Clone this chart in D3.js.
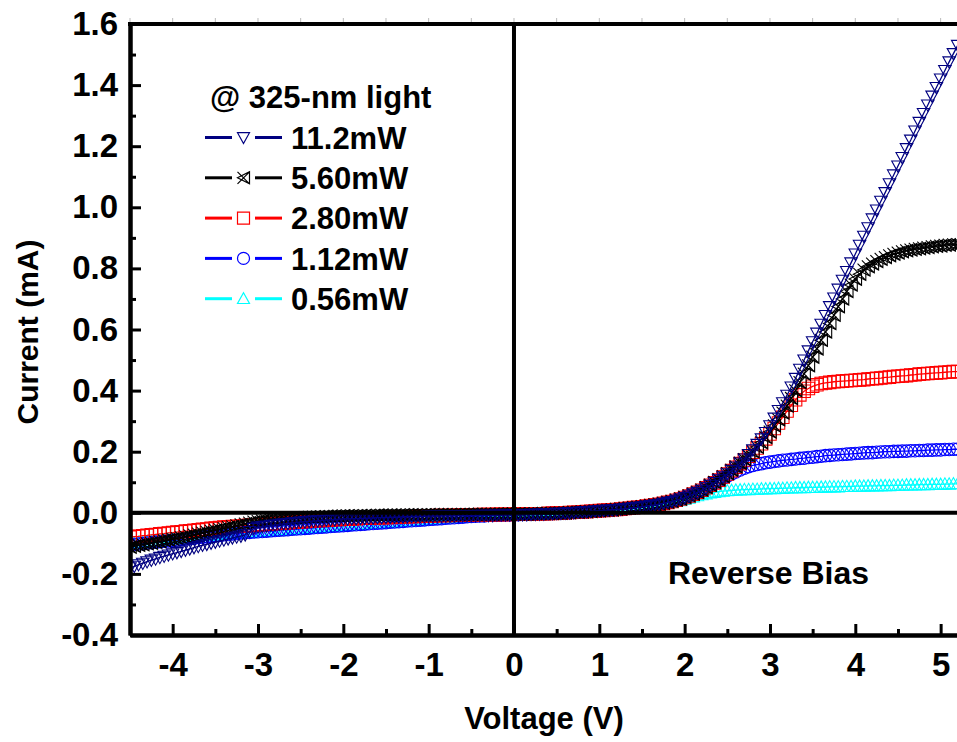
<!DOCTYPE html>
<html>
<head>
<meta charset="utf-8">
<script src="https://cdnjs.cloudflare.com/ajax/libs/d3/7.8.5/d3.min.js"></script>
<style>
  body { margin: 0; background: #fff; }
  text { font-family: "Liberation Sans", Arial, sans-serif; font-weight: bold; fill: #000; }
</style>
</head>
<body>
<svg id="chart"></svg>
<script>
'use strict';

// Voltage (V), 0.05 V steps
var voltage = [
  -4.50,-4.45,-4.40,-4.35,-4.30,-4.25,-4.20,-4.15,-4.10,-4.05,-4.00,-3.95,-3.90,-3.85,-3.80,-3.75,-3.70,-3.65,-3.60,-3.55,
  -3.50,-3.45,-3.40,-3.35,-3.30,-3.25,-3.20,-3.15,-3.10,-3.05,-3.00,-2.95,-2.90,-2.85,-2.80,-2.75,-2.70,-2.65,-2.60,-2.55,
  -2.50,-2.45,-2.40,-2.35,-2.30,-2.25,-2.20,-2.15,-2.10,-2.05,-2.00,-1.95,-1.90,-1.85,-1.80,-1.75,-1.70,-1.65,-1.60,-1.55,
  -1.50,-1.45,-1.40,-1.35,-1.30,-1.25,-1.20,-1.15,-1.10,-1.05,-1.00,-0.95,-0.90,-0.85,-0.80,-0.75,-0.70,-0.65,-0.60,-0.55,
  -0.50,-0.45,-0.40,-0.35,-0.30,-0.25,-0.20,-0.15,-0.10,-0.05,0.00,0.05,0.10,0.15,0.20,0.25,0.30,0.35,0.40,0.45,
  0.50,0.55,0.60,0.65,0.70,0.75,0.80,0.85,0.90,0.95,1.00,1.05,1.10,1.15,1.20,1.25,1.30,1.35,1.40,1.45,
  1.50,1.55,1.60,1.65,1.70,1.75,1.80,1.85,1.90,1.95,2.00,2.05,2.10,2.15,2.20,2.25,2.30,2.35,2.40,2.45,
  2.50,2.55,2.60,2.65,2.70,2.75,2.80,2.85,2.90,2.95,3.00,3.05,3.10,3.15,3.20,3.25,3.30,3.35,3.40,3.45,
  3.50,3.55,3.60,3.65,3.70,3.75,3.80,3.85,3.90,3.95,4.00,4.05,4.10,4.15,4.20,4.25,4.30,4.35,4.40,4.45,
  4.50,4.55,4.60,4.65,4.70,4.75,4.80,4.85,4.90,4.95,5.00,5.05,5.10,5.15,5.20
];

// Current (mA) for each light power
var current11_2 = [
  -0.180,-0.175,-0.170,-0.165,-0.160,-0.155,-0.151,-0.146,-0.142,-0.138,-0.134,-0.130,-0.126,-0.122,-0.118,-0.114,-0.110,-0.106,-0.103,-0.099,
  -0.096,-0.092,-0.089,-0.085,-0.082,-0.079,-0.076,-0.072,-0.061,-0.051,-0.047,-0.045,-0.043,-0.041,-0.040,-0.038,-0.036,-0.035,-0.033,-0.032,
  -0.030,-0.029,-0.028,-0.027,-0.026,-0.025,-0.024,-0.023,-0.022,-0.021,-0.020,-0.020,-0.019,-0.019,-0.018,-0.018,-0.017,-0.017,-0.016,-0.016,
  -0.015,-0.015,-0.014,-0.014,-0.013,-0.013,-0.012,-0.012,-0.012,-0.012,-0.011,-0.011,-0.011,-0.011,-0.010,-0.010,-0.010,-0.010,-0.009,-0.009,
  -0.009,-0.009,-0.008,-0.008,-0.008,-0.008,-0.007,-0.007,-0.007,-0.007,-0.006,-0.006,-0.006,-0.006,-0.005,-0.005,-0.004,-0.004,-0.003,-0.003,
  -0.002,-0.002,-0.001,0.000,0.001,0.002,0.003,0.004,0.005,0.006,0.007,0.008,0.009,0.010,0.011,0.012,0.014,0.015,0.017,0.018,
  0.020,0.022,0.024,0.026,0.028,0.031,0.034,0.037,0.041,0.045,0.050,0.055,0.061,0.067,0.074,0.082,0.090,0.099,0.108,0.118,
  0.128,0.139,0.150,0.163,0.176,0.191,0.206,0.224,0.242,0.263,0.285,0.310,0.335,0.360,0.385,0.412,0.440,0.470,0.500,0.530,
  0.560,0.588,0.617,0.646,0.675,0.703,0.732,0.761,0.790,0.818,0.847,0.876,0.905,0.933,0.962,0.991,1.020,1.048,1.077,1.106,
  1.135,1.163,1.192,1.220,1.250,1.278,1.307,1.335,1.364,1.392,1.420,1.448,1.476,1.503,1.530
];
var current5_60 = [
  -0.112,-0.109,-0.106,-0.104,-0.101,-0.099,-0.096,-0.094,-0.091,-0.089,-0.086,-0.084,-0.081,-0.078,-0.075,-0.072,-0.069,-0.066,-0.063,-0.060,
  -0.057,-0.054,-0.051,-0.048,-0.045,-0.042,-0.039,-0.036,-0.033,-0.030,-0.028,-0.026,-0.025,-0.023,-0.022,-0.021,-0.020,-0.019,-0.018,-0.017,
  -0.016,-0.015,-0.014,-0.014,-0.013,-0.013,-0.012,-0.012,-0.011,-0.011,-0.010,-0.010,-0.010,-0.010,-0.009,-0.009,-0.009,-0.009,-0.008,-0.008,
  -0.008,-0.008,-0.008,-0.008,-0.007,-0.007,-0.007,-0.007,-0.007,-0.007,-0.006,-0.006,-0.006,-0.006,-0.006,-0.006,-0.006,-0.006,-0.005,-0.005,
  -0.005,-0.005,-0.005,-0.005,-0.005,-0.005,-0.004,-0.004,-0.004,-0.004,-0.004,-0.004,-0.004,-0.004,-0.003,-0.003,-0.003,-0.003,-0.002,-0.002,
  -0.001,-0.001,0.000,0.001,0.002,0.002,0.003,0.004,0.005,0.006,0.007,0.008,0.009,0.010,0.012,0.013,0.015,0.016,0.018,0.019,
  0.021,0.023,0.025,0.027,0.029,0.032,0.035,0.038,0.042,0.046,0.051,0.056,0.062,0.068,0.075,0.083,0.091,0.100,0.109,0.119,
  0.129,0.140,0.151,0.163,0.175,0.187,0.200,0.215,0.230,0.247,0.265,0.285,0.305,0.327,0.350,0.375,0.400,0.427,0.455,0.482,
  0.510,0.537,0.565,0.592,0.620,0.647,0.675,0.700,0.725,0.746,0.765,0.781,0.795,0.806,0.815,0.823,0.830,0.836,0.842,0.847,
  0.851,0.855,0.858,0.861,0.863,0.865,0.867,0.869,0.871,0.873,0.874,0.876,0.877,0.878,0.879
];
var current2_80 = [
  -0.080,-0.078,-0.077,-0.075,-0.074,-0.072,-0.071,-0.069,-0.068,-0.066,-0.065,-0.063,-0.062,-0.060,-0.059,-0.057,-0.056,-0.054,-0.053,-0.051,
  -0.050,-0.048,-0.047,-0.046,-0.045,-0.044,-0.043,-0.042,-0.041,-0.040,-0.039,-0.038,-0.037,-0.036,-0.035,-0.034,-0.033,-0.032,-0.031,-0.030,
  -0.029,-0.028,-0.027,-0.026,-0.025,-0.025,-0.024,-0.023,-0.022,-0.022,-0.021,-0.020,-0.020,-0.019,-0.018,-0.018,-0.017,-0.017,-0.016,-0.016,
  -0.015,-0.015,-0.014,-0.014,-0.013,-0.013,-0.012,-0.012,-0.011,-0.011,-0.010,-0.010,-0.009,-0.009,-0.009,-0.009,-0.008,-0.008,-0.007,-0.007,
  -0.007,-0.007,-0.006,-0.006,-0.006,-0.006,-0.005,-0.005,-0.005,-0.005,-0.004,-0.004,-0.004,-0.004,-0.003,-0.003,-0.003,-0.003,-0.002,-0.002,
  -0.001,-0.001,0.000,0.001,0.002,0.002,0.003,0.004,0.005,0.006,0.007,0.008,0.009,0.010,0.011,0.012,0.014,0.015,0.017,0.018,
  0.020,0.022,0.024,0.026,0.028,0.031,0.034,0.037,0.041,0.045,0.050,0.055,0.061,0.067,0.074,0.082,0.090,0.098,0.107,0.117,
  0.127,0.138,0.149,0.161,0.173,0.185,0.198,0.212,0.226,0.242,0.258,0.276,0.294,0.313,0.333,0.352,0.370,0.386,0.398,0.407,
  0.414,0.419,0.423,0.425,0.427,0.429,0.430,0.431,0.432,0.433,0.434,0.435,0.436,0.438,0.439,0.440,0.441,0.443,0.444,0.446,
  0.447,0.448,0.449,0.451,0.452,0.454,0.455,0.456,0.457,0.458,0.459,0.460,0.461,0.462,0.462
];
var current1_12 = [
  -0.105,-0.104,-0.102,-0.101,-0.099,-0.098,-0.096,-0.095,-0.093,-0.092,-0.090,-0.089,-0.087,-0.086,-0.084,-0.083,-0.081,-0.080,-0.078,-0.077,
  -0.075,-0.074,-0.072,-0.071,-0.069,-0.068,-0.066,-0.065,-0.064,-0.063,-0.062,-0.061,-0.060,-0.059,-0.058,-0.057,-0.056,-0.055,-0.054,-0.053,
  -0.052,-0.051,-0.050,-0.049,-0.048,-0.047,-0.046,-0.045,-0.044,-0.043,-0.042,-0.041,-0.040,-0.039,-0.038,-0.037,-0.036,-0.035,-0.034,-0.033,
  -0.032,-0.031,-0.030,-0.029,-0.028,-0.027,-0.026,-0.025,-0.024,-0.023,-0.022,-0.021,-0.020,-0.019,-0.018,-0.017,-0.016,-0.015,-0.014,-0.013,
  -0.012,-0.011,-0.010,-0.010,-0.009,-0.009,-0.008,-0.008,-0.007,-0.007,-0.006,-0.006,-0.005,-0.005,-0.004,-0.004,-0.003,-0.003,-0.002,-0.002,
  -0.001,-0.001,0.000,0.000,0.001,0.002,0.003,0.004,0.005,0.006,0.007,0.008,0.009,0.010,0.011,0.012,0.014,0.015,0.017,0.018,
  0.020,0.022,0.024,0.026,0.028,0.031,0.034,0.037,0.041,0.045,0.050,0.055,0.061,0.067,0.074,0.081,0.089,0.097,0.105,0.113,
  0.120,0.127,0.134,0.140,0.146,0.151,0.155,0.158,0.161,0.164,0.166,0.168,0.170,0.172,0.173,0.175,0.176,0.178,0.179,0.181,
  0.182,0.184,0.185,0.187,0.188,0.189,0.190,0.191,0.192,0.193,0.194,0.195,0.196,0.197,0.197,0.198,0.199,0.200,0.200,0.201,
  0.201,0.202,0.202,0.203,0.203,0.204,0.204,0.205,0.205,0.206,0.206,0.207,0.207,0.208,0.208
];
var current0_56 = [
  -0.100,-0.099,-0.097,-0.096,-0.094,-0.093,-0.091,-0.090,-0.088,-0.087,-0.085,-0.084,-0.082,-0.081,-0.079,-0.078,-0.076,-0.075,-0.074,-0.073,
  -0.072,-0.071,-0.070,-0.069,-0.068,-0.067,-0.066,-0.065,-0.064,-0.063,-0.062,-0.061,-0.060,-0.059,-0.058,-0.057,-0.056,-0.055,-0.054,-0.053,
  -0.052,-0.051,-0.050,-0.049,-0.048,-0.047,-0.046,-0.045,-0.044,-0.043,-0.042,-0.041,-0.040,-0.039,-0.038,-0.037,-0.036,-0.035,-0.034,-0.033,
  -0.032,-0.031,-0.030,-0.029,-0.028,-0.027,-0.026,-0.025,-0.024,-0.023,-0.022,-0.021,-0.020,-0.019,-0.018,-0.017,-0.016,-0.015,-0.014,-0.013,
  -0.012,-0.011,-0.010,-0.010,-0.009,-0.009,-0.008,-0.008,-0.007,-0.007,-0.006,-0.006,-0.005,-0.005,-0.004,-0.004,-0.003,-0.003,-0.002,-0.002,
  -0.001,-0.001,0.000,0.000,0.001,0.002,0.003,0.004,0.005,0.006,0.007,0.008,0.009,0.010,0.011,0.012,0.013,0.014,0.015,0.016,
  0.018,0.020,0.022,0.024,0.026,0.028,0.031,0.034,0.037,0.040,0.044,0.048,0.052,0.056,0.059,0.062,0.065,0.067,0.069,0.071,
  0.072,0.073,0.074,0.075,0.076,0.076,0.077,0.077,0.078,0.078,0.079,0.079,0.080,0.080,0.081,0.081,0.082,0.082,0.082,0.083,
  0.083,0.083,0.084,0.084,0.085,0.085,0.085,0.086,0.086,0.086,0.087,0.087,0.087,0.088,0.088,0.088,0.089,0.089,0.089,0.090,
  0.090,0.090,0.091,0.091,0.091,0.092,0.092,0.092,0.093,0.093,0.093,0.094,0.094,0.095,0.095
];

var seriesNames = ['11.2mW', '5.60mW', '2.80mW', '1.12mW', '0.56mW'];
var seriesValues = [current11_2, current5_60, current2_80, current1_12, current0_56];
var seriesColors = ['#000080', '#000000', '#ff0000', '#0000ff', '#00ffff'];
var seriesMarkers = ['triangleDown', 'crossTriangle', 'square', 'circle', 'triangleUp'];

var xTicks = [-4, -3, -2, -1, 0, 1, 2, 3, 4, 5];
var yTicks = [-0.4, -0.2, 0.0, 0.2, 0.4, 0.6, 0.8, 1.0, 1.2, 1.4, 1.6];
var legendTitle = '@ 325-nm light';
var annotation = 'Reverse Bias';

// chart area
var canvasWidth = 957;
var canvasHeight = 742;
var margin = { top: 24, right: 0, bottom: 107, left: 130 };

var svg = d3.select('#chart')
  .attr('width', canvasWidth)
  .attr('height', canvasHeight);

var xScale = d3.scaleLinear().domain([-4.5, 5.2]).range([margin.left, 957.7]);
var yScale = d3.scaleLinear().domain([-0.4, 1.6]).range([canvasHeight - margin.bottom, margin.top]);

var plotLeft = xScale(-4.5), plotRight = canvasWidth, plotTop = yScale(1.6), plotBottom = yScale(-0.4);

svg.append('defs').append('clipPath').attr('id', 'plotClip')
  .append('rect')
  .attr('x', plotLeft).attr('y', plotTop)
  .attr('width', plotRight - plotLeft).attr('height', plotBottom - plotTop);

// marker shapes, s = full size in px
function markerPath(type, s) {
  var h = s / 2;
  if (type === 'triangleDown') return 'M' + (-h) + ',' + (-h * 0.8) + 'L' + h + ',' + (-h * 0.8) + 'L0,' + h + 'Z';
  if (type === 'triangleUp') return 'M' + (-h) + ',' + (h * 0.8) + 'L' + h + ',' + (h * 0.8) + 'L0,' + (-h) + 'Z';
  if (type === 'square') return 'M' + (-h) + ',' + (-h) + 'H' + h + 'V' + h + 'H' + (-h) + 'Z';
  if (type === 'circle') return 'M' + h + ',0A' + h + ',' + h + ' 0 1,1 ' + (-h) + ',0A' + h + ',' + h + ' 0 1,1 ' + h + ',0Z';
  // X with a left-pointing triangle
  return 'M' + (-h) + ',' + (-h) + 'L' + h + ',' + h + 'M' + (-h) + ',' + h + 'L' + h + ',' + (-h) +
    'M' + h + ',' + (-h) + 'V' + h + 'L' + (-h) + ',0Z';
}

// data
var plotArea = svg.append('g').attr('clip-path', 'url(#plotClip)');
var line = d3.line()
  .x(function(d) { return xScale(d[0]); })
  .y(function(d) { return yScale(d[1]); });

// lowest power first so 11.2mW ends on top
for (var k = seriesValues.length - 1; k >= 0; k--) {
  var pts = voltage.map(function(v, i) { return [v, seriesValues[k][i]]; });
  var g = plotArea.append('g');
  g.append('path')
    .attr('d', line(pts))
    .attr('fill', 'none')
    .attr('stroke', seriesColors[k])
    .attr('stroke-width', 1.3);
  g.selectAll('path.marker')
    .data(pts)
    .enter()
    .append('path')
    .attr('class', 'marker')
    .attr('transform', function(d) { return 'translate(' + xScale(d[0]) + ',' + yScale(d[1]) + ')'; })
    .attr('d', markerPath(seriesMarkers[k], 12.5))
    .attr('fill', 'none')
    .attr('stroke', seriesColors[k])
    .attr('stroke-width', 1.1);
}

// zero lines
svg.append('line')
  .attr('x1', plotLeft).attr('x2', plotRight)
  .attr('y1', yScale(0)).attr('y2', yScale(0))
  .attr('stroke', '#000').attr('stroke-width', 4);
svg.append('line')
  .attr('x1', xScale(0)).attr('x2', xScale(0))
  .attr('y1', plotTop).attr('y2', plotBottom)
  .attr('stroke', '#000').attr('stroke-width', 4);

// axes
var xMinor = [-4.5, -3.5, -2.5, -1.5, -0.5, 0.5, 1.5, 2.5, 3.5, 4.5];
var yMinor = [-0.3, -0.1, 0.1, 0.3, 0.5, 0.7, 0.9, 1.1, 1.3, 1.5];

svg.append('g')
  .attr('class', 'x axis minor')
  .attr('transform', 'translate(0,' + plotBottom + ')')
  .call(d3.axisBottom(xScale).tickValues(xMinor).tickFormat('').tickSizeInner(-6).tickSizeOuter(0));
svg.append('g')
  .attr('class', 'y axis minor')
  .attr('transform', 'translate(' + plotLeft + ',0)')
  .call(d3.axisLeft(yScale).tickValues(yMinor).tickFormat('').tickSizeInner(-6).tickSizeOuter(0));

var xAxis = svg.append('g')
  .attr('class', 'x axis')
  .attr('transform', 'translate(0,' + plotBottom + ')')
  .call(d3.axisBottom(xScale).tickValues(xTicks).tickSizeInner(-11).tickSizeOuter(0).tickPadding(18));
var yAxis = svg.append('g')
  .attr('class', 'y axis')
  .attr('transform', 'translate(' + plotLeft + ',0)')
  .call(d3.axisLeft(yScale).tickValues(yTicks).tickSizeInner(-11).tickSizeOuter(0).tickPadding(12));

svg.selectAll('.axis path.domain').attr('stroke', '#000').attr('stroke-width', 4);
svg.selectAll('.axis .tick line').attr('stroke', '#000').attr('stroke-width', 3);
svg.selectAll('.axis .tick text')
  .style('font-size', '33px')
  .style('font-family', '"Liberation Sans", Arial, sans-serif')
  .style('font-weight', 'bold')
  .attr('fill', '#000');
// plain hyphen for negatives, as in the original
yAxis.selectAll('.tick text').text(function(d) { return (d < 0 ? '-' : '') + Math.abs(d).toFixed(1); });
xAxis.selectAll('.tick text').text(function(d) { return (d < 0 ? '-' : '') + Math.abs(d); });

// top frame with its light ticks
svg.append('line')
  .attr('x1', plotLeft - 2).attr('x2', plotRight)
  .attr('y1', plotTop).attr('y2', plotTop)
  .attr('stroke', '#000').attr('stroke-width', 4);
svg.append('g').selectAll('line')
  .data(xMinor.concat(xTicks))
  .enter()
  .append('line')
  .attr('x1', function(d) { return xScale(d); }).attr('x2', function(d) { return xScale(d); })
  .attr('y1', plotTop - 2).attr('y2', plotTop - 6)
  .attr('stroke', '#bbb').attr('stroke-width', 1);

// axis titles
svg.append('text')
  .attr('x', 544)
  .attr('y', 729)
  .attr('text-anchor', 'middle')
  .style('font-size', '31px')
  .text('Voltage (V)');
svg.append('text')
  .attr('transform', 'translate(38,332) rotate(-90)')
  .attr('text-anchor', 'middle')
  .style('font-size', '30px')
  .text('Current (mA)');

// annotation
svg.append('text')
  .attr('x', 668)
  .attr('y', 584)
  .style('font-size', '32px')
  .text(annotation);

// legend
var legend = svg.append('g').attr('class', 'legend');
legend.append('text')
  .attr('x', 210)
  .attr('y', 97)
  .attr('dy', '0.36em')
  .style('font-size', '31px')
  .text(legendTitle);
seriesNames.forEach(function(name, i) {
  var ly = 137.5 + i * 40.3;
  var row = legend.append('g').attr('transform', 'translate(0,' + ly + ')');
  row.append('line').attr('x1', 205).attr('x2', 232).attr('y1', 0).attr('y2', 0)
    .attr('stroke', seriesColors[i]).attr('stroke-width', 3);
  row.append('line').attr('x1', 255).attr('x2', 282).attr('y1', 0).attr('y2', 0)
    .attr('stroke', seriesColors[i]).attr('stroke-width', 3);
  row.append('path')
    .attr('transform', 'translate(243.5,0)')
    .attr('d', markerPath(seriesMarkers[i], 12))
    .attr('fill', 'none')
    .attr('stroke', seriesColors[i])
    .attr('stroke-width', 1.2);
  row.append('text')
    .attr('x', 291)
    .attr('y', 0)
    .attr('dy', '0.36em')
    .style('font-size', '31px')
    .text(name);
});
</script>
</body>
</html>
